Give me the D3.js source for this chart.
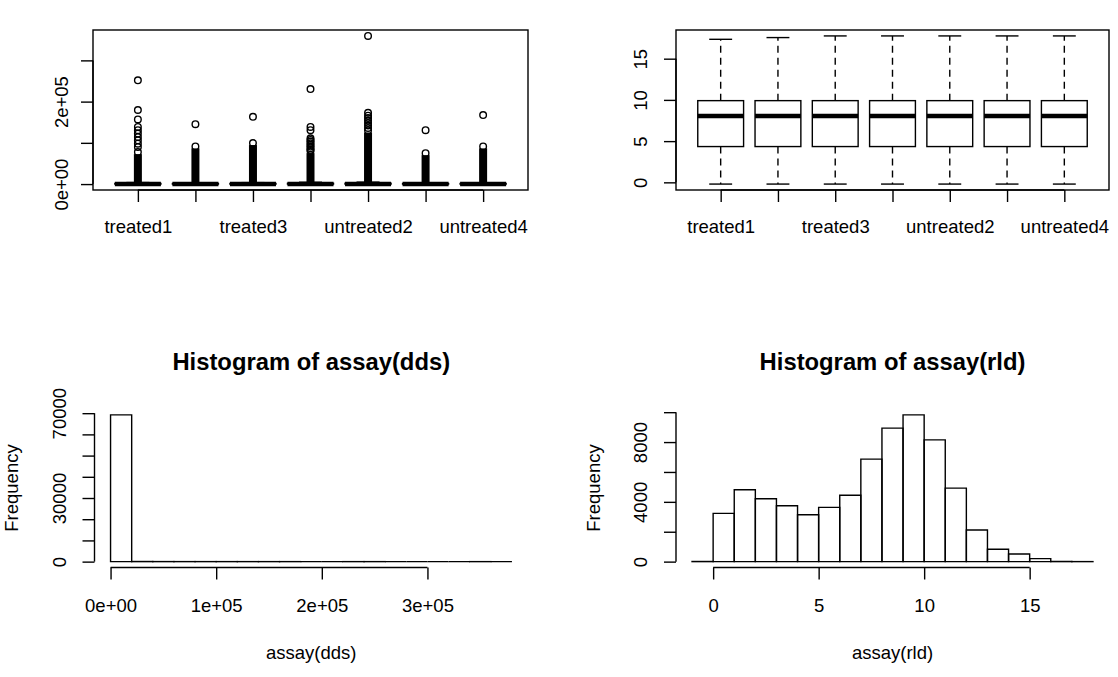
<!DOCTYPE html>
<html><head><meta charset="utf-8">
<script src="https://cdn.jsdelivr.net/npm/d3@7"></script>
<style>
body{margin:0;background:#fff}
svg{display:block}
text{font-family:"Liberation Sans",Arial,sans-serif;fill:#000}
</style>
</head><body>
<svg id="c" width="1118" height="677"></svg>
<script>
// ---------------- DATA ----------------
const samples = ["treated1","treated2","treated3","untreated1","untreated2","untreated3","untreated4"];
const sampleTickLabels = ["treated1","","treated3","","untreated2","","untreated4"];

// boxplot(assay(dds)) : raw counts
const countLowerWhisker = [0,0,0,0,0,0,0];
const countQ1 = [4,3,4,5,6,3,4];
const countMedian = [250,220,240,300,320,200,230];
const countQ3 = [1500,1300,1400,1800,1900,1200,1350];
const countUpperWhisker = [3700,3200,3500,4400,4700,3000,3300];
const countDenseTop = [77500,91400,99500,80000,130000,75000,91400];
const countOutliers = [
  [251500,179700,156900,138700,130600,122500,114200,106100,98000,89700],
  [145300],
  [163200],
  [230400,138700,130600,111000,107000,103000,99000,95000,91000,87000,83000],
  [359300,173000,166000,160000,154000,148000,142000,136000],
  [130600],
  [167400]
];
const countBoxYTicks = [0,100000,200000,300000];
const countBoxYTickLabels = ["0e+00","","2e+05",""];

// boxplot(assay(rld)) : regularized log
const rldLowerWhisker = [-0.21,-0.21,-0.21,-0.21,-0.21,-0.21,-0.21];
const rldQ1 = [4.34,4.34,4.34,4.34,4.34,4.34,4.34];
const rldMedian = [8.05,8.05,8.05,8.05,8.05,8.05,8.05];
const rldQ3 = [9.91,9.91,9.91,9.91,9.91,9.91,9.91];
const rldUpperWhisker = [17.35,17.56,17.76,17.76,17.76,17.76,17.76];
const rldBoxYTicks = [0,5,10,15];
const rldBoxYTickLabels = ["0","5","10","15"];

// hist(assay(dds))
const ddsBreaks = [0,20000,40000,60000,80000,100000,120000,140000,160000,180000,200000,220000,240000,260000,280000,300000,320000,340000,360000,380000];
const ddsCounts = [69200,60,25,12,10,8,6,4,4,0,0,1,1,0,0,0,0,1,0];
const ddsXTicks = [0,100000,200000,300000];
const ddsXTickLabels = ["0e+00","1e+05","2e+05","3e+05"];
const ddsYTicks = [0,10000,20000,30000,40000,50000,60000,70000];
const ddsYTickLabels = ["0","","","30000","","","","70000"];

// hist(assay(rld))
const rldBreaks = [-1,0,1,2,3,4,5,6,7,8,9,10,11,12,13,14,15,16,17,18];
const rldCounts = [10,3230,4810,4210,3740,3140,3630,4440,6860,8930,9820,8150,4920,2120,830,515,200,12,2];
const rldXTicks = [0,5,10,15];
const rldXTickLabels = ["0","5","10","15"];
const rldYTicks = [0,2000,4000,6000,8000,10000];
const rldYTickLabels = ["0","","4000","","8000",""];

// ---------------- LAYOUT ----------------
const LW = 1.4, TICK = 12, FS = 18.5;
const svg = d3.select("#c");
function rExt(lo, hi){ const s = hi - lo; return [lo - 0.04*s, hi + 0.04*s]; }

function styleAxis(g){
  g.selectAll("line").attr("stroke","#000").attr("stroke-width",LW);
  g.selectAll("text").attr("font-size",FS).attr("fill","#000");
}
function bottomAxis(x, yPos, ticks, labels, baseline){
  const g = svg.append("g").attr("transform",`translate(0,${yPos})`)
    .call(d3.axisBottom(x).tickValues(ticks).tickSize(TICK).tickSizeOuter(0).tickFormat((d,i)=>labels[i]));
  g.select(".domain").remove();
  g.append("line").attr("x1",x(ticks[0])).attr("x2",x(ticks[ticks.length-1])).attr("y1",0).attr("y2",0);
  g.selectAll("text").attr("y",baseline).attr("dy",null);
  styleAxis(g);
}
function leftAxis(y, xPos, ticks, labels, offset){
  const g = svg.append("g").attr("transform",`translate(${xPos},0)`)
    .call(d3.axisLeft(y).tickValues(ticks).tickSize(TICK).tickSizeOuter(0).tickFormat((d,i)=>labels[i]));
  g.select(".domain").remove();
  g.append("line").attr("x1",0).attr("x2",0).attr("y1",y(ticks[0])).attr("y2",y(ticks[ticks.length-1]));
  g.selectAll("text").attr("x",null).attr("dy","0.36em").attr("text-anchor","middle")
    .attr("transform",`translate(${-offset},0) rotate(-90)`);
  styleAxis(g);
}

// ---------- boxplot panel ----------
function boxPanel(P, lo, q1, med, q3, hi, yTicks, yLabels, yOffset, outliers, dense){
  const x = d3.scaleLinear().domain(rExt(0.5, samples.length + 0.5)).range([P.x0, P.x1]);
  let all = [...lo, ...hi];
  if (outliers) outliers.forEach(o => all = all.concat(o));
  const y = d3.scaleLinear().domain(rExt(d3.min(all), d3.max(all))).range([P.y1, P.y0]);
  const unit = x(2) - x(1), bw = 0.8*unit, sw = 0.4*unit;
  const g = svg.append("g");
  samples.forEach((s, i) => {
    const cx = x(i+1);
    g.append("line").attr("x1",cx).attr("x2",cx).attr("y1",y(q3[i])).attr("y2",y(hi[i]))
      .attr("stroke","#000").attr("stroke-width",LW).attr("stroke-dasharray","7,5");
    g.append("line").attr("x1",cx).attr("x2",cx).attr("y1",y(q1[i])).attr("y2",y(lo[i]))
      .attr("stroke","#000").attr("stroke-width",LW).attr("stroke-dasharray","7,5");
    [lo[i], hi[i]].forEach(v => g.append("line").attr("x1",cx - sw/2).attr("x2",cx + sw/2)
      .attr("y1",y(v)).attr("y2",y(v)).attr("stroke","#000").attr("stroke-width",LW));
    g.append("rect").attr("x",cx - bw/2).attr("width",bw).attr("y",y(q3[i]))
      .attr("height",Math.max(0.01,y(q1[i]) - y(q3[i]))).attr("fill","none")
      .attr("stroke","#000").attr("stroke-width",LW);
    g.append("line").attr("x1",cx - bw/2).attr("x2",cx + bw/2).attr("y1",y(med[i])).attr("y2",y(med[i]))
      .attr("stroke","#000").attr("stroke-width",4.6);
    if (dense){
      g.append("rect").attr("x",cx - 4).attr("width",8).attr("y",y(dense[i]) + 2)
        .attr("height",y(hi[i]) - y(dense[i]) - 2).attr("fill","#000");
      g.append("circle").attr("cx",cx).attr("cy",y(dense[i])).attr("r",3.3)
        .attr("fill","none").attr("stroke","#000").attr("stroke-width",LW);
    }
    if (outliers){
      outliers[i].forEach(v => g.append("circle").attr("cx",cx).attr("cy",y(v)).attr("r",3.3)
        .attr("fill","none").attr("stroke","#000").attr("stroke-width",LW));
    }
  });
  svg.append("rect").attr("x",P.x0).attr("y",P.y0).attr("width",P.x1-P.x0).attr("height",P.y1-P.y0)
    .attr("fill","none").attr("stroke","#000").attr("stroke-width",LW);
  bottomAxis(x, P.y1, d3.range(1, samples.length+1), sampleTickLabels, 43.3);
  leftAxis(y, P.x0, yTicks, yLabels, yOffset);
}

// ---------- histogram panel ----------
function histPanel(P, breaks, counts, xTicks, xLabels, yTicks, yLabels, title, xlab){
  const x = d3.scaleLinear().domain(rExt(breaks[0], breaks[breaks.length-1])).range([P.x0, P.x1]);
  const y = d3.scaleLinear().domain(rExt(0, d3.max(counts))).range([P.y1, P.y0]);
  const g = svg.append("g");
  counts.forEach((c, i) => {
    const x0 = x(breaks[i]), x1 = x(breaks[i+1]), y0 = y(0), y1 = y(c);
    g.append("path").attr("d",`M${x0},${y0}V${y1}H${x1}V${y0}Z`)
      .attr("fill","none").attr("stroke","#000").attr("stroke-width",LW);
  });
  bottomAxis(x, P.y1, xTicks, xLabels, 44.2);
  leftAxis(y, P.x0, yTicks, yLabels, 35.5);
  const cx = (P.x0 + P.x1)/2;
  svg.append("text").attr("x",cx).attr("y",369.5).attr("text-anchor","middle")
    .attr("font-size",23.8).attr("font-weight","bold").text(title);
  svg.append("text").attr("x",cx).attr("y",658.5).attr("text-anchor","middle")
    .attr("font-size",FS).text(xlab);
  svg.append("text").attr("transform",`translate(${P.x0 - 81.8},488) rotate(-90)`)
    .attr("dy","0.3em").attr("text-anchor","middle").attr("font-size",FS).text("Frequency");
}

boxPanel({x0:93, x1:528, y0:30, y1:190}, countLowerWhisker, countQ1, countMedian, countQ3, countUpperWhisker,
  countBoxYTicks, countBoxYTickLabels, 31.3, countOutliers, countDenseTop);
boxPanel({x0:676, x1:1109, y0:30, y1:190}, rldLowerWhisker, rldQ1, rldMedian, rldQ3, rldUpperWhisker,
  rldBoxYTicks, rldBoxYTickLabels, 36, null, null);
histPanel({x0:94.5, x1:528, y0:409, y1:567.5}, ddsBreaks, ddsCounts, ddsXTicks, ddsXTickLabels,
  ddsYTicks, ddsYTickLabels, "Histogram of assay(dds)", "assay(dds)");
histPanel({x0:676, x1:1109, y0:409, y1:567.5}, rldBreaks, rldCounts, rldXTicks, rldXTickLabels,
  rldYTicks, rldYTickLabels, "Histogram of assay(rld)", "assay(rld)");
</script>
</body></html>
